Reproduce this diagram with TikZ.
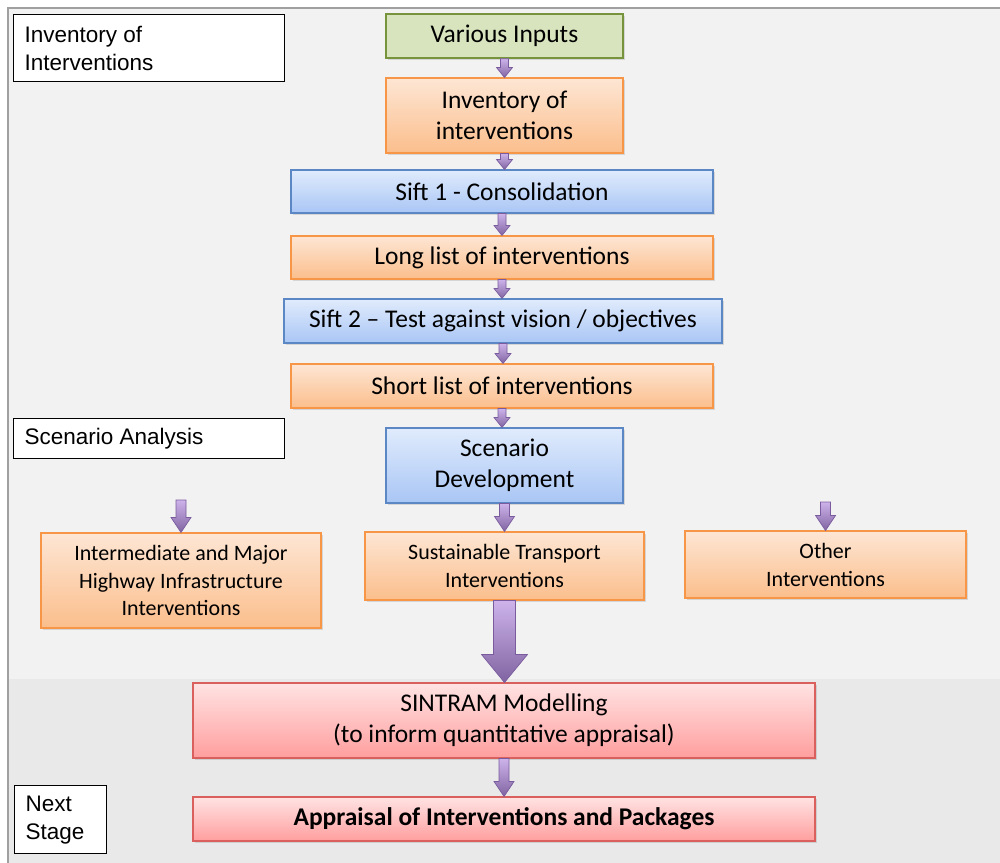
\documentclass[tikz,border=0pt]{standalone}
\usepackage{fontspec}
\setmainfont{Carlito}
\newfontfamily\labelfont{Liberation Sans}
\usetikzlibrary{shadows}
\usetikzlibrary{calc}

\definecolor{bgtop}{HTML}{F3F2F3}
\definecolor{bgbottom}{HTML}{E9E9E9}
\definecolor{frameline}{HTML}{A0A0A0}
\definecolor{greenfill}{HTML}{D7E4BD}
\definecolor{greenline}{HTML}{77933C}
\definecolor{orangetop}{HTML}{FDE6D4}
\definecolor{orangebot}{HTML}{FBBE8C}
\definecolor{orangeline}{HTML}{F79646}
\definecolor{bluetop}{HTML}{E0EBFC}
\definecolor{bluebot}{HTML}{A9C6F5}
\definecolor{blueline}{HTML}{5B87C5}
\definecolor{redtop}{HTML}{FFE3E3}
\definecolor{redbot}{HTML}{FF9E9E}
\definecolor{redline}{HTML}{D9605C}
\definecolor{arrowtop}{HTML}{CDB3EA}
\definecolor{arrowbot}{HTML}{8064A2}
\definecolor{arrowline}{HTML}{7A5C9E}

\tikzset{
  box/.style={rectangle, align=center, inner sep=2pt,
    drop shadow={opacity=0.25, shadow xshift=0.04cm, shadow yshift=-0.04cm}},
  greenbox/.style={box, draw=greenline, fill=greenfill, line width=0.8pt,
    font=\fontsize{14.5}{17.6}\selectfont},
  orangebox/.style={box, draw=orangeline, top color=orangetop, bottom color=orangebot,
    line width=0.6pt, font=\fontsize{14.5}{17.6}\selectfont},
  smallorange/.style={orangebox, font=\fontsize{12.5}{15.9}\selectfont},
  bluebox/.style={box, draw=blueline, top color=bluetop, bottom color=bluebot,
    line width=0.6pt, font=\fontsize{14.5}{17.6}\selectfont},
  redbox/.style={box, draw=redline, top color=redtop, bottom color=redbot,
    line width=0.6pt, font=\fontsize{14.5}{17.6}\selectfont},
  stagelabel/.style={rectangle, draw=black, fill=white, line width=0.8pt,
    anchor=north west, align=flush left, inner xsep=0.22cm,
    font=\labelfont\fontsize{12.8}{15.9}\selectfont},
  blockarrow/.style={draw=arrowline, line width=0.4pt, top color=arrowtop,
    bottom color=arrowbot}
}

% vertical block arrow: start, end, shaft width, head width, head length
\newcommand{\vblock}[5]{%
  \path[blockarrow] let \p1=(#1), \p2=(#2) in
    (\x1-#3/2,\y1) -- (\x1+#3/2,\y1) -- (\x1+#3/2,\y2+#5) -- (\x1+#4/2,\y2+#5)
    -- (\x1,\y2) -- (\x1-#4/2,\y2+#5) -- (\x1-#3/2,\y2+#5) -- cycle;}

\begin{document}
\begin{tikzpicture}
  \useasboundingbox (0,0) rectangle (20,-17.26);
  % background panels
  \fill[white] (0,0) rectangle (20,-17.26);
  \fill[bgtop] (0.16,-0.16) rectangle (20,-13.58);
  \fill[bgbottom] (0.16,-13.58) rectangle (20,-17.26);
  \draw[frameline, line width=1pt] (0.16,-17.26) -- (0.16,-0.16) -- (20,-0.16);

  % stage labels
  \node[stagelabel, text width=4.98cm, minimum height=1.34cm] (lblinv) at (0.26,-0.28)
    {Inventory of\\Interventions};
  \node[stagelabel, text width=4.98cm, minimum height=0.8cm] (lblscen) at (0.26,-8.36)
    {Scenario Analysis};
  \node[stagelabel, text width=1.4cm, minimum height=1.36cm] (lblnext) at (0.28,-15.7)
    {Next\\Stage};

  % main flow
  \node[greenbox, minimum width=4.74cm, minimum height=0.88cm] (inputs) at (10.09,-0.72)
    {Various Inputs};
  \node[orangebox, minimum width=4.74cm, minimum height=1.5cm] (inventory) at (10.09,-2.31)
    {Inventory of\\interventions};
  \node[bluebox, minimum width=8.44cm, minimum height=0.86cm] (sift1) at (10.04,-3.83)
    {Sift 1 - Consolidation};
  \node[orangebox, minimum width=8.44cm, minimum height=0.86cm] (longlist) at (10.04,-5.15)
    {Long list of interventions};
  \node[bluebox, minimum width=8.76cm, minimum height=0.88cm] (sift2) at (10.06,-6.42)
    {Sift 2 -- Test against vision / objectives};
  \node[orangebox, minimum width=8.44cm, minimum height=0.88cm] (shortlist) at (10.04,-7.72)
    {Short list of interventions};
  \node[bluebox, minimum width=4.74cm, minimum height=1.5cm] (scenario) at (10.09,-9.31)
    {Scenario\\Development};
  \node[smallorange, minimum width=5.6cm, minimum height=1.9cm] (highway) at (3.62,-11.61)
    {Intermediate and Major\\Highway Infrastructure\\Interventions};
  \node[smallorange, minimum width=5.58cm, minimum height=1.36cm] (sustainable) at (10.09,-11.32)
    {Sustainable Transport\\Interventions};
  \node[smallorange, minimum width=5.62cm, minimum height=1.34cm] (other) at (16.51,-11.29)
    {Other\\Interventions};
  \node[redbox, minimum width=12.44cm, minimum height=1.5cm] (sintram) at (10.08,-14.41)
    {SINTRAM Modelling\\(to inform quantitative appraisal)};
  \node[redbox, minimum width=12.44cm, minimum height=0.88cm] (appraisal) at (10.08,-16.38)
    {\bfseries Appraisal of Interventions and Packages};

  \coordinate (highwayin) at (3.62,-10.0);
  \coordinate (otherin) at (16.51,-10.04);

  % arrows
  \vblock{inputs.south}{inventory.north}{0.16cm}{0.32cm}{0.2cm}
  \vblock{inventory.south}{sift1.north}{0.16cm}{0.32cm}{0.2cm}
  \vblock{sift1.south}{longlist.north}{0.16cm}{0.32cm}{0.2cm}
  \vblock{longlist.south}{sift2.north}{0.16cm}{0.32cm}{0.2cm}
  \vblock{sift2.south}{shortlist.north}{0.16cm}{0.32cm}{0.2cm}
  \vblock{shortlist.south}{scenario.north}{0.16cm}{0.32cm}{0.2cm}
  \vblock{scenario.south}{sustainable.north}{0.2cm}{0.4cm}{0.3cm}
  \vblock{highwayin}{highway.north}{0.2cm}{0.4cm}{0.3cm}
  \vblock{otherin}{other.north}{0.2cm}{0.4cm}{0.3cm}
  \vblock{sustainable.south}{sintram.north}{0.44cm}{0.92cm}{0.56cm}
  \vblock{sintram.south}{appraisal.north}{0.2cm}{0.4cm}{0.3cm}
\end{tikzpicture}
\end{document}
